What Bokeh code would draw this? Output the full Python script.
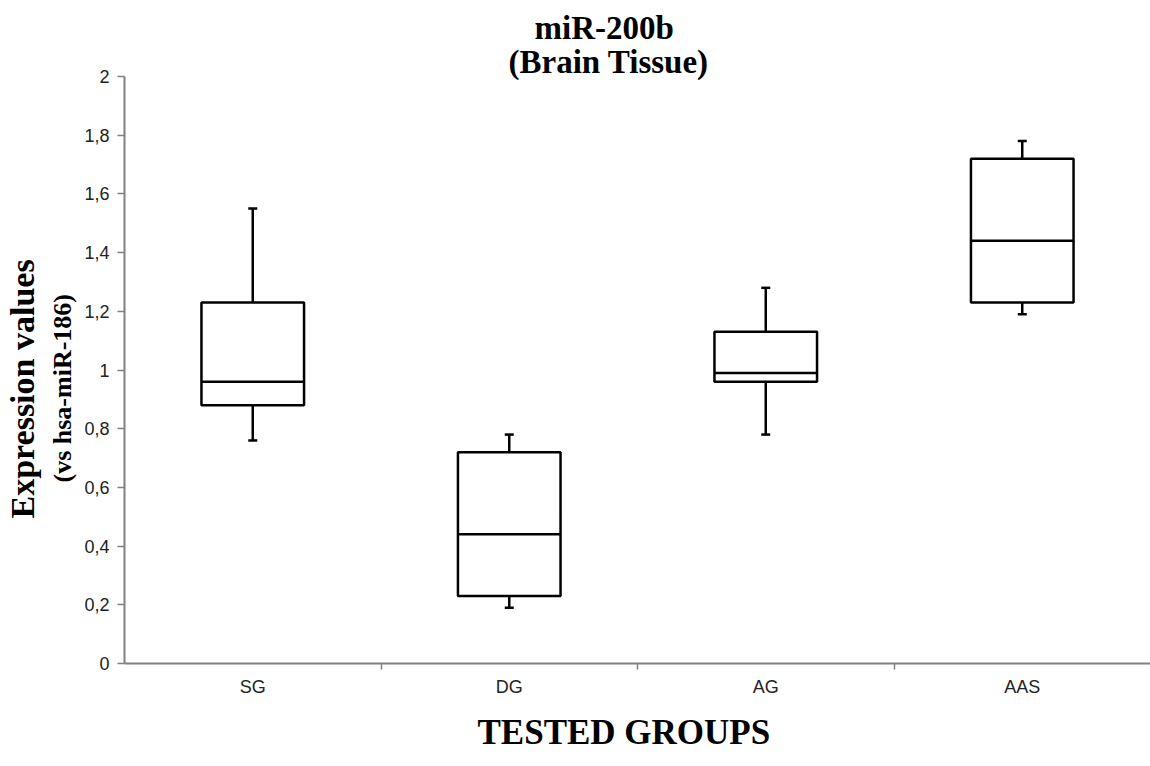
from bokeh.plotting import figure
from bokeh.models import Range1d, FixedTicker, CustomJSTickFormatter, Title
from bokeh.embed import file_html
from bokeh.resources import INLINE

# ---- data ----
categories = ["SG", "DG", "AG", "AAS"]
lower = [0.76, 0.19, 0.78, 1.19]
q1 = [0.88, 0.23, 0.96, 1.23]
median = [0.96, 0.44, 0.99, 1.44]
q3 = [1.23, 0.72, 1.13, 1.72]
upper = [1.55, 0.78, 1.28, 1.78]
y_ticks = [0, 0.2, 0.4, 0.6, 0.8, 1.0, 1.2, 1.4, 1.6, 1.8, 2.0]

BOX_W = 0.4
CAP_W = 0.035

n = len(categories)
centers = [i + 0.5 for i in range(n)]

p = figure(width=1150, height=766, output_backend="svg", toolbar_location=None,
           x_range=Range1d(0, n), y_range=Range1d(0, 2))
p.min_border_left = 123
p.min_border_right = 0
p.min_border_top = 76
p.min_border_bottom = 103
p.outline_line_color = None
p.xgrid.visible = False
p.ygrid.visible = False
p.background_fill_color = "white"
p.border_fill_color = "white"

# boxes
p.quad(left=[c - BOX_W / 2 for c in centers], right=[c + BOX_W / 2 for c in centers],
       bottom=q1, top=q3, fill_color="white", line_color="black", line_width=2.5)
# medians
p.segment(x0=[c - BOX_W / 2 for c in centers], x1=[c + BOX_W / 2 for c in centers],
          y0=median, y1=median, line_color="black", line_width=2.5)
# whiskers
p.segment(x0=centers, x1=centers, y0=q3, y1=upper, line_color="black", line_width=2.5)
p.segment(x0=centers, x1=centers, y0=q1, y1=lower, line_color="black", line_width=2.5)
# caps
p.segment(x0=[c - CAP_W / 2 for c in centers], x1=[c + CAP_W / 2 for c in centers],
          y0=upper, y1=upper, line_color="black", line_width=2.5)
p.segment(x0=[c - CAP_W / 2 for c in centers], x1=[c + CAP_W / 2 for c in centers],
          y0=lower, y1=lower, line_color="black", line_width=2.5)

axis_gray = "#808080"
label_color = "#222222"
serif = "Liberation Serif"

# x axis: labels at centres, ticks at boundaries
xa = p.xaxis[0]
xa.ticker = FixedTicker(ticks=centers, minor_ticks=list(range(1, n)))
xa.major_label_overrides = {c: cat for c, cat in zip(centers, categories)}
xa.major_tick_line_color = None
xa.major_tick_out = 6
xa.major_tick_in = 0
xa.minor_tick_out = 6
xa.minor_tick_in = 0
xa.minor_tick_line_color = axis_gray
xa.minor_tick_line_width = 1.5
xa.axis_line_color = axis_gray
xa.axis_line_width = 2
xa.major_label_text_font = "Liberation Sans"
xa.major_label_text_font_size = "18px"
xa.major_label_text_color = label_color
xa.major_label_standoff = 7

# y axis
ya = p.yaxis[0]
ya.ticker = FixedTicker(ticks=y_ticks, minor_ticks=[])
ya.formatter = CustomJSTickFormatter(code="""
    const s = (Math.round(tick * 10) / 10).toString();
    return s.replace('.', ',');
""")
ya.major_tick_out = 7
ya.major_tick_in = 0
ya.major_tick_line_color = axis_gray
ya.major_tick_line_width = 1.5
ya.axis_line_color = axis_gray
ya.axis_line_width = 2
ya.major_label_text_font = "Liberation Sans"
ya.major_label_text_font_size = "18px"
ya.major_label_text_color = label_color
ya.major_label_standoff = 8


def make_title(text, size, offset, standoff, valign="bottom"):
    return Title(text=text, text_font=serif, text_font_style="bold",
                 text_font_size=size, align="left", offset=offset,
                 standoff=standoff, vertical_align=valign, text_color="black")


# y axis titles (two lines, different sizes)
p.add_layout(make_title("(vs hsa-miR-186)", "26px", 181, 9), "left")
p.add_layout(make_title("Expression values", "34px", 145, 2), "left")
# x axis title
p.add_layout(make_title("TESTED GROUPS", "35px", 353, 26, "top"), "below")
# chart title (two lines)
p.add_layout(make_title("(Brain Tissue)", "33px", 384, -7), "above")
p.add_layout(make_title("miR-200b", "33px", 410, 0), "above")

open("out.html", "w").write(file_html(p, INLINE))
